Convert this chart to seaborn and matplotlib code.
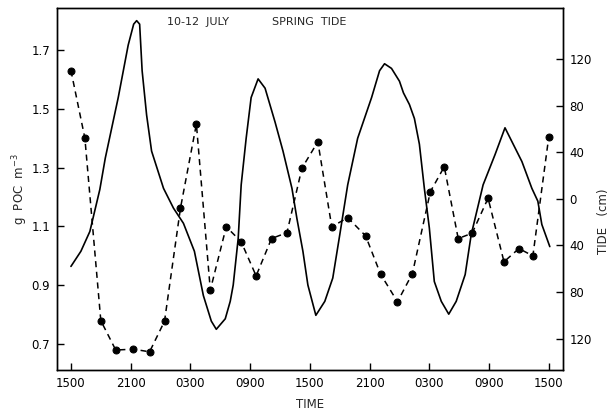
import numpy as np
import pandas as pd
import matplotlib
matplotlib.use("Agg")
import matplotlib.pyplot as plt
import seaborn as sns

# POC samples (hours after 1500 on 10 July, g POC m^-3)
poc_hours = [0, 1.4, 3.0, 4.5, 6.25, 7.9, 9.4, 11.0, 12.6, 14.0, 15.6, 17.1,
             18.6, 20.15, 21.7, 23.2, 24.8, 26.2, 27.8, 29.6, 31.1, 32.8,
             34.3, 36.1, 37.5, 38.9, 40.3, 41.9, 43.5, 45.0, 46.4, 48.0]
poc_values = [1.63, 1.40, 0.78, 0.68, 0.683, 0.674, 0.778, 1.162, 1.448, 0.884,
              1.099, 1.048, 0.932, 1.059, 1.079, 1.298, 1.388, 1.099, 1.13,
              1.068, 0.938, 0.844, 0.94, 1.218, 1.303, 1.059, 1.077, 1.196,
              0.98, 1.025, 1.0, 1.405]

# tide record (cm)
tide_hours = [0, 1.0, 1.9, 2.9, 3.45, 4.75, 5.75, 6.3, 6.6, 6.9, 7.15, 7.6,
              8.1, 9.3, 10.3, 11.3, 12.4, 13.3, 14.1, 14.6, 15.5, 16.0, 16.3,
              16.8, 17.1, 17.6, 18.1, 18.8, 19.5, 20.5, 21.3, 22.2, 22.7,
              23.3, 23.8, 24.6, 25.5, 26.3, 27.0, 27.8, 28.8, 30.2, 31.0,
              31.5, 32.2, 33.0, 33.4, 34.0, 34.5, 35.0, 35.5, 36.0, 36.5,
              37.2, 37.95, 38.7, 39.6, 40.2, 41.4, 42.6, 43.6, 45.3, 46.3,
              46.9, 47.3, 48.1]
tide_cm = [-58, -45, -28, 8, 35, 87, 132, 150, 153, 150, 110, 72,
           41, 9, -8, -21, -45, -83, -105, -112, -103, -88, -74,
           -34, 12, 52, 87, 103, 95, 66, 41, 9, -17,
           -45, -74, -100, -88, -68, -31, 12, 52, 87, 110,
           116, 112, 101, 91, 81, 69, 47, 9, -25, -71,
           -88, -99, -88, -65, -31, 12, 38, 61, 32, 9,
           -2, -22, -41]

time_ticks = [0, 6, 12, 18, 24, 30, 36, 42, 48]
time_labels = ["1500", "2100", "0300", "0900", "1500", "2100", "0300", "0900", "1500"]
poc_ticks = [0.7, 0.9, 1.1, 1.3, 1.5, 1.7]
poc_labels = ["0.7", "0.9", "1.1", "1.3", "1.5", "1.7"]
tide_ticks = [-120, -80, -40, 0, 40, 80, 120]
tide_labels = ["120", "80", "40", "0", "40", "80", "120"]

poc = pd.DataFrame({"hour": poc_hours, "poc": poc_values})
tide = pd.DataFrame({"hour": tide_hours, "tide": tide_cm})

sns.set_style("ticks")
plt.rcParams["font.family"] = ["DejaVu Sans"]

fig = plt.figure(figsize=(6.13, 4.13), dpi=100)
ax = fig.add_axes([0.093, 0.104, 0.825, 0.877])
ax2 = ax.twinx()

sns.lineplot(data=poc, x="hour", y="poc", ax=ax, color="black",
             linestyle=(0, (4, 3)), linewidth=1.1, marker="o",
             markersize=5, markeredgecolor="black")
sns.lineplot(data=tide, x="hour", y="tide", ax=ax2, color="black",
             linewidth=1.2)

ax.set_xlim(-1.4, 49.4)
ax.set_ylim(0.612, 1.843)
ax2.set_ylim(-147, 164)

ax.set_xticks(time_ticks)
ax.set_xticklabels(time_labels)
ax.set_yticks(poc_ticks)
ax.set_yticklabels(poc_labels)
ax2.set_yticks(tide_ticks)
ax2.set_yticklabels(tide_labels)

ax.tick_params(axis="both", direction="in", length=5, width=1,
               labelsize=8.5, pad=5, colors="black")
ax2.tick_params(axis="y", direction="in", length=5, width=1,
                labelsize=8.5, pad=5, colors="black")

for a in (ax, ax2):
    for s in a.spines.values():
        s.set_visible(True)
        s.set_color("black")
        s.set_linewidth(1)

ax.set_xlabel("TIME", fontsize=8.5)
ax.set_ylabel("g  POC  m$^{-3}$", fontsize=8.5)
ax2.set_ylabel("TIDE   (cm)", fontsize=8.5)
ax.xaxis.set_label_coords(0.5, -0.078)
ax.yaxis.set_label_coords(-0.054, 0.5)
ax2.yaxis.set_label_coords(1.068, 0.41)

ax.text(0.217, 0.961, "10-12  JULY", transform=ax.transAxes,
        fontsize=8, va="center", ha="left")
ax.text(0.425, 0.961, "SPRING  TIDE", transform=ax.transAxes,
        fontsize=8, va="center", ha="left")

fig.savefig("out.png", dpi=100, facecolor="white")
